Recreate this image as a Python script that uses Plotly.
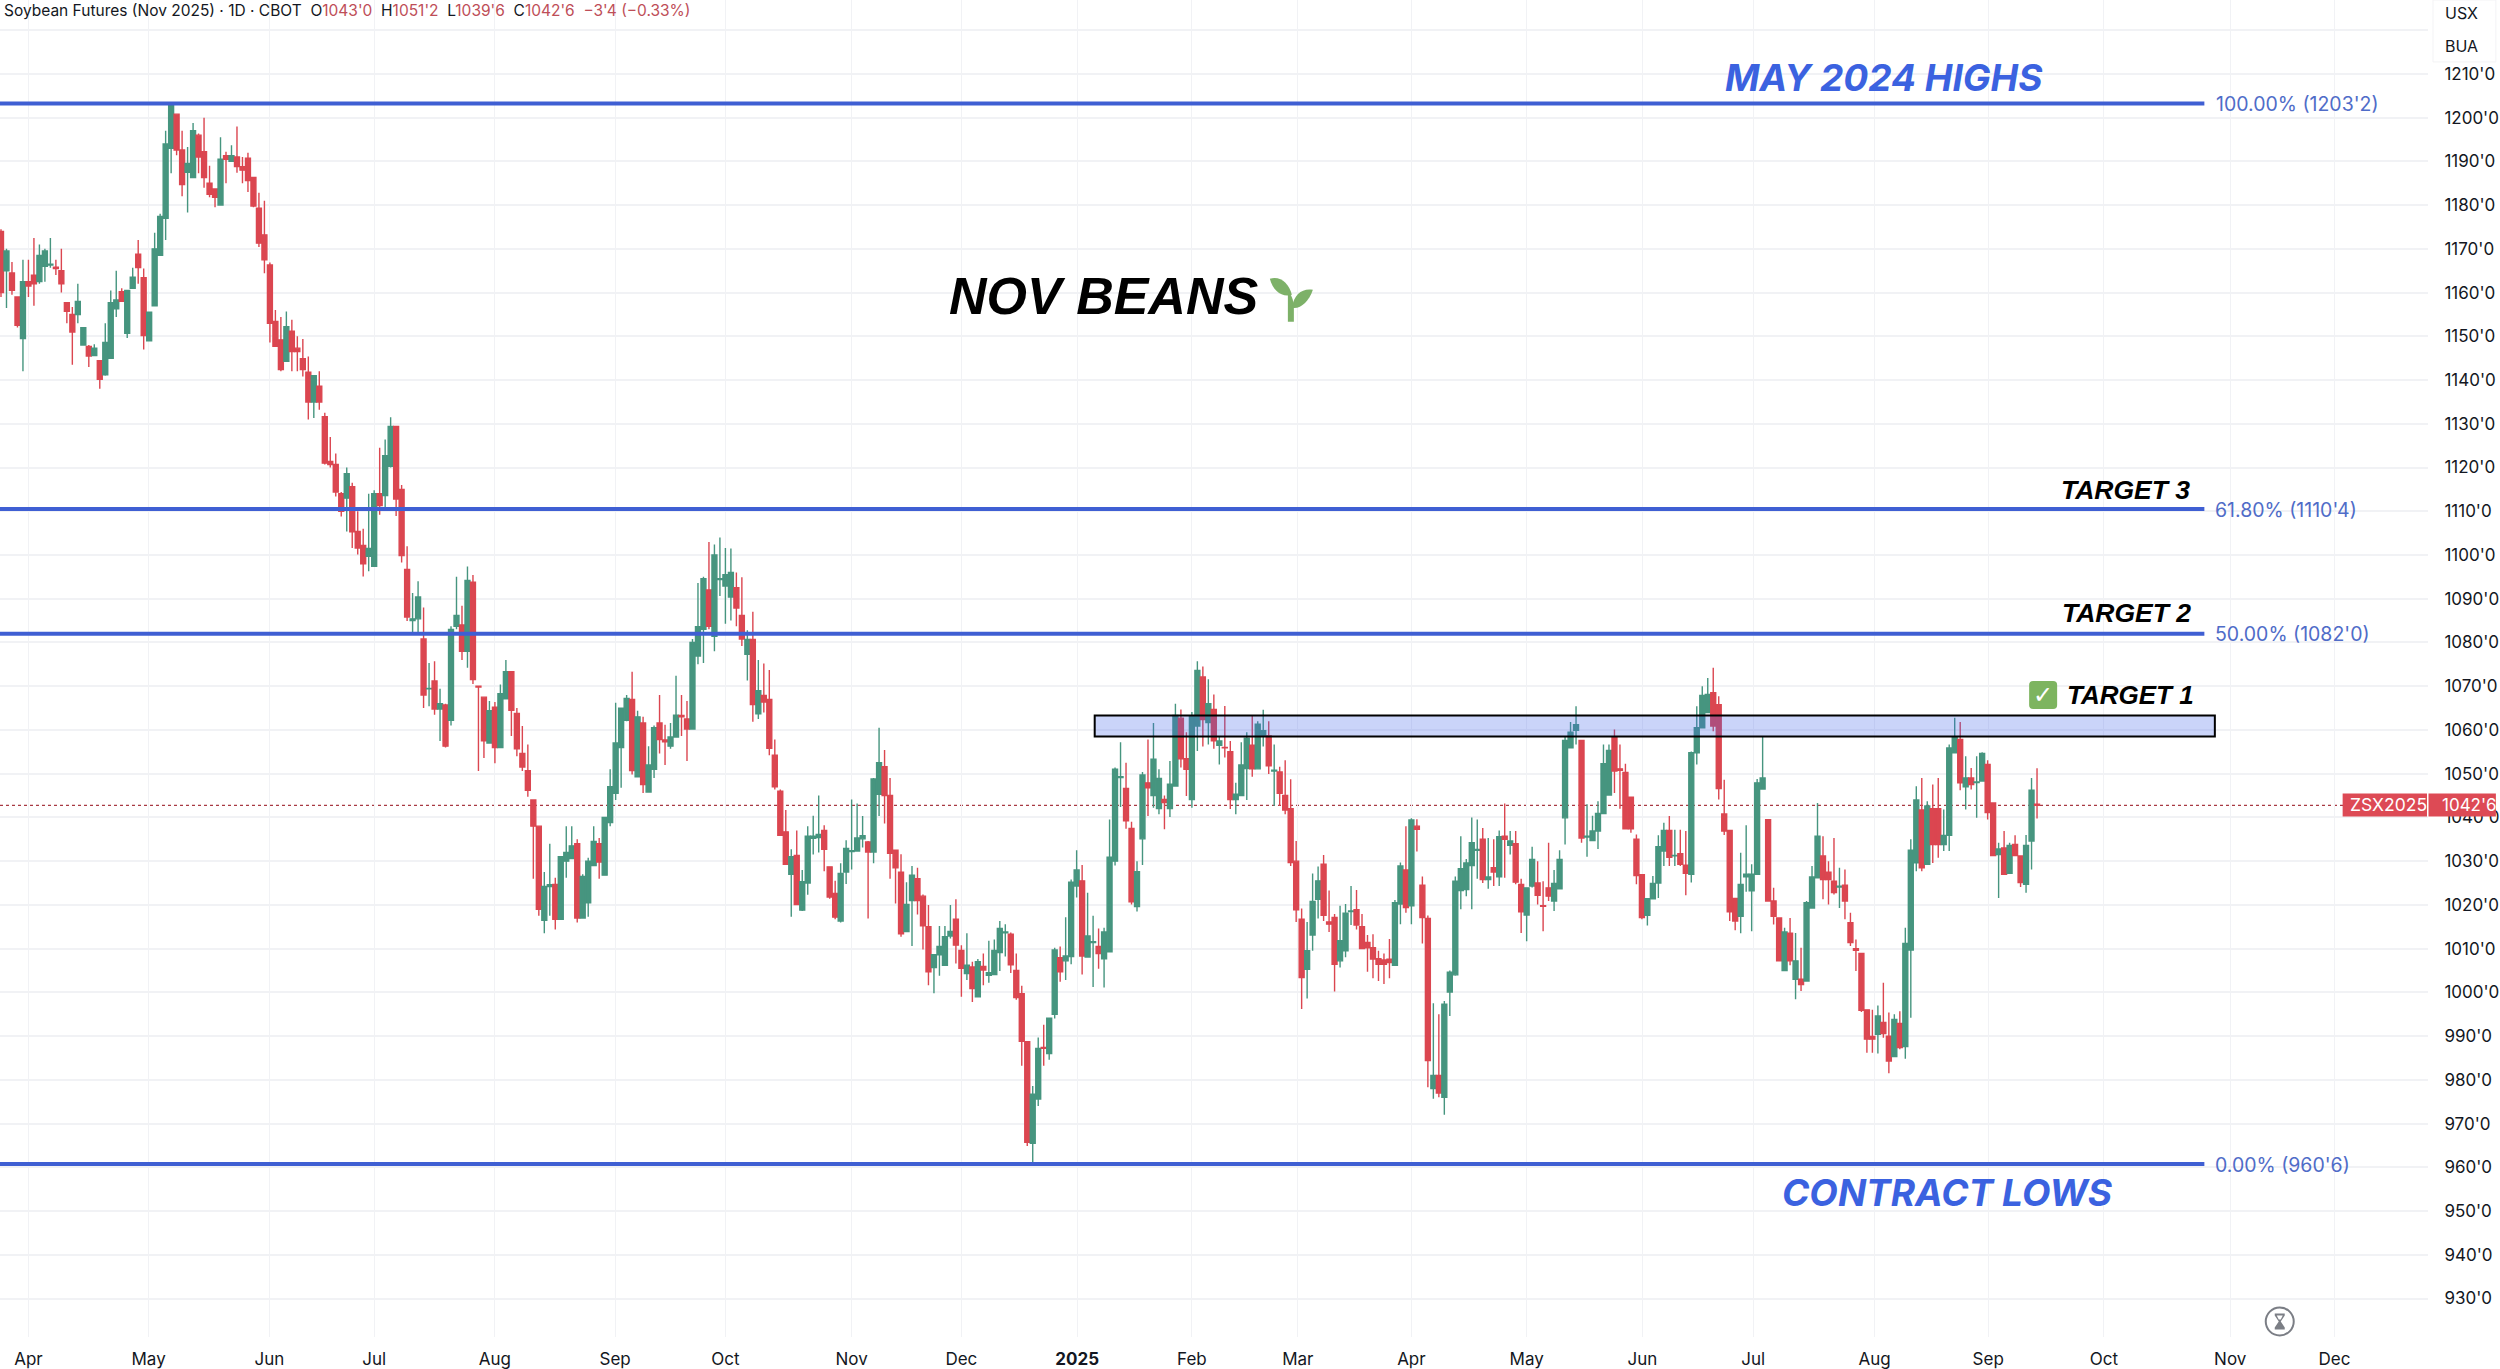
import plotly.graph_objects as go

opens = [
1174,1165,1164.5,1159,1149.5,1162.5,1164,1162.5,1166,1166.3,
1165.8,1165,1157.7,1155,1155,1148,1147.7,1145.6,1144.4,1141.2,
1145,1156.3,1160.2,1150.7,1161,1168.8,1163.4,1149,1157,1168.5,
1177,1193,1200.8,1192.6,1187.5,1186.3,1196,1192.2,1185,1183.7,
1180,1191.3,1190,1191,1188.8,1190.7,1186.3,1179.3,1173.2,1166.3,
1153.4,1149.2,1144.3,1151.2,1147.3,1144.9,1141.8,1135,1138.6,1131.6,
1121.4,1120.7,1114,1113,1115.6,1105.4,1102.2,1099.7,1097.4,1114,
1113.6,1120.3,1129.4,1115,1096.7,1085,1085.4,1080.8,1069.4,1071.2,
1064.8,1065.7,1062.2,1083.7,1084,1078,1093.8,1070,1067.5,1057,
1065.2,1056,1067.1,1073.3,1063.8,1054.6,1050.7,1044,1038,1016.5,
1024.2,1024.7,1016.7,1030,1030.6,1034,1017,1020.5,1029,1034,
1026.8,1038.8,1045.5,1056,1062.2,1067,1049.3,1061.6,1045.8,1051,
1061.6,1057.7,1056.3,1058.4,1063.3,1062.5,1060.2,1076.9,1083,1092,
1081.4,1094.4,1092.9,1090.4,1092.5,1086.2,1077.3,1080.7,1063.7,1067.9,
1067,1054.2,1046,1036.7,1027,1031.3,1018.8,1025,1035.2,1035.4,
1037,1028.7,1022.6,1016.3,1027.5,1032.2,1032.3,1035.1,1034.4,1032.1,
1045.3,1051.6,1045,1032.5,1027.5,1013.9,1021,1026,1022,1015,
1005.7,1008.6,1006.2,1012.9,1016.7,1009.6,1004.3,1005.8,999,1005.9,
1003.9,1004.1,1009.1,1013.6,1013.3,1005,999.7,988.7,965.5,975.6,
987.4,986,995,1007.9,1007.2,1008.2,1024.3,1025.5,1008.1,1011.4,
1010.5,1007.7,1009.3,1030,1049.1,1046.6,1037.5,1019.6,1035.1,1047.9,
1045,1042,1044.1,1042,1047.2,1062.7,1053.4,1044.1,1060.9,1072.1,
1061.7,1064.7,1056.5,1056,1055,1044.1,1045,1051.2,1056.5,1051.1,
1058.6,1058.6,1050.6,1050.4,1045,1042,1030,1016.7,1005.3,1013.1,
1021.3,1029.3,1016.1,1017.1,1007.2,1009.5,1018.5,1018.9,1015,1011.4,
1010.2,1007.7,1007.4,1007.6,1006.2,1020.2,1028,1019.8,1038,1024.5,
1016.9,978,981,976,1000.1,1004,1023.3,1023.5,1029,1032.5,
1035,1025.8,1028.5,1026.4,1035.7,1033.6,1034,1024.7,1017.7,1024.3,
1025,1019.8,1023.9,1020.9,1023.7,1039.9,1055.9,1059.9,1057.6,1035.5,
1034.7,1036.9,1040.9,1045.1,1058.4,1051.1,1050.3,1044.6,1035,1026.9,
1017.6,1021.4,1025,1032.3,1037,1031.2,1031.7,1029.1,1027,1054.8,
1060.5,1064,1068.5,1065.8,1040.8,1037,1021.5,1017.4,1026.4,1023.2,
1027,1046.5,1039.5,1020.9,1017,1005,1013.5,1003,1003,1002.6,
1019.3,1026.2,1031.2,1027.5,1025.4,1024.1,1024.5,1015.9,1010,1008.9,
996,989.9,990.4,993.1,990,985.3,992.9,987.6,1009.7,1029.6,
1041.7,1029.3,1042,1042,1033.8,1035.9,1054.8,1057.8,1047,1049,
1048,1048.3,1052.1,1043.3,1031.5,1033,1027.2,1033.8,1031.2,1024.7,1034.6,1043]

highs = [
1174.5,1170,1167,1159,1167.5,1167.5,1172.5,1171,1170,1172.5,
1167.5,1170,1157.7,1156.7,1162,1152,1148,1148.2,1144.4,1153,
1160.5,1165,1161,1160.5,1165.7,1172,1165.5,1155.5,1173.7,1178,
1197,1203.6,1200.8,1197,1193.3,1198.8,1196.4,1200,1189,1183.7,
1195.5,1192.2,1193.7,1198,1191,1192,1186.3,1182.8,1181,1166.9,
1156,1154.4,1155.7,1153.8,1150,1149.4,1145.4,1141,1142,1132.5,
1127,1123.2,1114.4,1120,1116.5,1110,1106,1114,1114.8,1124.5,
1126.4,1131.5,1129.4,1116,1102,1091.3,1094,1088,1075.3,1075.7,
1069.4,1066,1083.7,1095,1088.4,1097.4,1095.4,1070,1067.5,1066.6,
1066.4,1070.4,1076,1073.3,1065,1060.9,1056.7,1044,1038,1027.5,
1034,1026.2,1031,1038,1038,1035,1027,1030.8,1038,1035.3,
1040,1051,1066.2,1065,1068,1073.3,1064.4,1063,1056.3,1061,
1068,1061.2,1061.6,1072.4,1068,1066.6,1080.8,1093.6,1095,1103,
1102.4,1104,1101.6,1101.5,1096,1094.9,1082.8,1087,1076,1075.2,
1073.7,1057.8,1046.4,1041.7,1032.7,1037,1028,1038,1040.4,1045,
1038.2,1028.7,1025.5,1029.5,1034.8,1044.1,1043.2,1040.3,1034.6,1049,
1060.5,1055.4,1049,1032.5,1031.6,1025.2,1028.9,1028.5,1022.4,1020,
1008.6,1015.2,1015.2,1020,1021.3,1010.8,1013.5,1007,1007.6,1008.9,
1011.8,1012.1,1016.3,1015.6,1013.7,1008.9,1001.5,988.7,978.6,989.7,
992.6,994.1,1010.2,1010.5,1017.2,1025.8,1032.5,1029.1,1022.8,1017.5,
1014.6,1014.8,1039.5,1051.4,1057.2,1052.5,1039,1030,1050.4,1057.8,
1061.6,1051,1045,1052.9,1066,1064.7,1059.5,1064.1,1075.7,1074.5,
1071.6,1068.1,1058.6,1065.5,1057.5,1047.9,1057.2,1059.5,1063.3,1062,
1064.6,1062,1056.7,1051.6,1053.1,1048.7,1034.6,1019.2,1016.1,1027.2,
1028.8,1031.4,1023.3,1017.9,1019.8,1020.2,1024.3,1023.4,1017.9,1013.1,
1013.3,1009.5,1008.9,1012.2,1021.1,1029.7,1038,1039.8,1039.6,1026.5,
1017.6,997.5,995,998,1005,1026.5,1035.7,1030.5,1040,1039.5,
1037.6,1035.3,1035,1037,1043.2,1036.9,1036.9,1026,1024,1033.3,
1030,1025.4,1034.2,1028,1032.5,1058.6,1061.8,1065.4,1057.6,1043,
1040.4,1043.7,1056.7,1056.7,1060.1,1056.7,1052.3,1044.6,1036.1,1026.9,
1021.4,1026.6,1035.9,1038.8,1040.3,1037.2,1037.2,1036.9,1055.1,1065.4,
1070,1071.9,1074.2,1067.7,1048.6,1037,1021.5,1031.9,1038.2,1029.3,
1048.8,1058.6,1039.5,1023.9,1017,1014.8,1017,1013.6,1010.2,1020.9,
1028.9,1043.3,1035.7,1030,1035.3,1028.5,1028.1,1018.2,1012.1,1008.9,
996,996,997,1002.2,995.4,995,995.7,1014.8,1035,1047.1,
1049,1043.7,1047.5,1049,1041.8,1056.7,1062.8,1061.8,1054,1051.3,
1054,1054.9,1053.1,1043.3,1034.2,1036.9,1034.2,1035.9,1031.2,1036,1049,1051.25]

lows = [
1159,1156.5,1159.5,1152,1142,1159,1157,1162,1162.5,1165.7,
1164,1160,1153,1143.5,1153,1148,1143,1145.6,1138,1141,
1145,1154.4,1158,1149.6,1161,1162,1147,1149,1157,1168.5,
1172,1187.3,1191.4,1182,1178.3,1186.3,1187.3,1184,1181.8,1179.5,
1180,1185,1190,1187.4,1185,1183,1179.5,1170.4,1164.4,1148.6,
1147.7,1142,1144.3,1142,1142,1140.8,1131,1131.3,1133.2,1120.7,
1120,1113.4,1108.8,1105.4,1101.6,1100.1,1095.1,1096.3,1097.4,1109.2,
1111,1120,1108.9,1098.3,1084.9,1081.8,1081.8,1065,1065.4,1063.5,
1057.5,1056,1061,1083,1076,1074.2,1070.5,1050.6,1053.6,1057,
1052.4,1056,1067,1058.6,1054,1050.6,1044.7,1026,1017.5,1013.5,
1017.5,1014.4,1016.7,1026.2,1030.6,1016,1017,1017.3,1029,1026,
1026.8,1038,1044,1046.8,1062,1049.8,1049.3,1045.6,1045.8,1049,
1054.6,1052,1055.7,1058.4,1058.6,1052.9,1060.2,1075,1075.3,1083,
1078,1090.6,1084.3,1085,1083.7,1079.2,1071.3,1061.9,1062.5,1064,
1054.2,1046.4,1035.9,1029.3,1017.3,1020,1018.6,1022.3,1031.5,1032,
1027.7,1021.4,1016.7,1016,1024.8,1028.1,1032.3,1033.1,1016.9,1029.5,
1040.3,1038.6,1026,1020.3,1012.7,1013.9,1010.6,1017.8,1009.8,1001.6,
999.8,1003.8,1006.2,1012.3,1006.6,999,1002.8,997.8,999,1001.6,
1002.2,1004.1,1004.9,1008.2,1004.4,998.3,983.2,964.9,960.75,974,
983.2,984.6,994,1002.4,1002.8,1006.4,1021.7,1004.1,1008.1,1001.2,
1005.4,1001.1,1009.3,1029,1042.4,1037.4,1020.1,1018.5,1029.1,1040.3,
1042.2,1040.7,1037.3,1040.1,1047.2,1051.4,1044.9,1042.2,1055.2,1056.2,
1056.7,1055.7,1052.1,1053.7,1041.9,1040.7,1044.9,1044,1049.3,1051,
1056.2,1049.9,1042.6,1042.6,1040.7,1028.9,1016.1,996.2,998.6,1009.5,
1016.9,1016.3,1013.8,1000.2,1005.7,1008,1015.4,1014.4,1010,1004.7,
1003.2,1002.6,1001.9,1003.2,1006.2,1015.6,1018.2,1015.6,1032.2,1011.2,
978.3,975.7,976,972,994.6,1003.8,1019,1022,1019,1026,
1025,1023.7,1024.3,1024.3,1026.2,1031.5,1024.7,1013.6,1011.7,1024,
1020.1,1014,1020.9,1018.6,1023.7,1033.8,1055.9,1056.7,1034.2,1031,
1034.7,1032.8,1040.9,1045,1045.6,1042,1037.4,1036.5,1024.7,1016.7,
1015.3,1021.4,1021.6,1028.9,1028.9,1028.9,1028.9,1022.2,1025.1,1052.1,
1060.5,1063.9,1059.7,1044.1,1036,1016.3,1014.2,1013.5,1023,1014,
1027,1046.4,1020.9,1015.5,1007.2,1005,1006.2,998.4,1000.3,1002.6,
1019.3,1026.2,1021.3,1020.1,1022.4,1019.3,1016.7,1010.6,1004.9,995.5,
986.2,986.2,986,989.6,981.5,985.3,987,984.8,994.2,1027.7,
1027.7,1029.3,1029.6,1030.8,1032.3,1032.3,1054.8,1046.2,1041.8,1046.4,
1039.9,1048.3,1039.5,1031.2,1021.6,1027,1027.2,1031.2,1024.1,1022.8,1028.1,1039.75]

closes = [
1160,1169.5,1160.5,1152.5,1162.5,1161.5,1162,1168.5,1169.5,1166.5,
1165.5,1162,1155.7,1151,1158,1152,1145.5,1147.3,1140.2,1148.6,
1157.7,1158.3,1158,1160.5,1163.5,1165.7,1150.2,1155.5,1170,1177.4,
1194,1203.2,1192.6,1184.7,1189.5,1197,1191,1186.3,1182.5,1181.8,
1190.5,1190.5,1191.3,1188.8,1188,1185.6,1179.8,1171.3,1167.5,1153,
1147.7,1142.4,1152.2,1146.5,1146.5,1142.4,1135,1141,1135,1121,
1120.7,1114.4,1110,1118.6,1105.3,1101.6,1098,1101.5,1114,1111.3,
1122.7,1129.4,1112.8,1099.9,1085.8,1085.4,1090.4,1068,1069.5,1064.8,
1066,1056.3,1083,1086.2,1078,1094.2,1071.5,1069.8,1057.5,1064.4,
1056,1068.3,1073.3,1064.5,1055.7,1051.5,1046.2,1038,1019,1024.2,
1024.6,1016.7,1031,1032,1033.5,1017,1026.5,1030,1034.5,1029.8,
1040,1047,1057,1065,1067.2,1050.7,1063,1047.5,1052,1060.5,
1057.8,1057.3,1058.4,1063.4,1063,1060.2,1080,1083.6,1094.6,1083.7,
1100,1094.6,1095.5,1096,1087.9,1080.8,1080.7,1065.8,1069,1066.4,
1055.8,1047,1035.9,1029.3,1031,1020.1,1025.3,1035.7,1035.7,1036.1,
1032.7,1021.8,1017.2,1027.2,1032.9,1032.4,1035.3,1035.8,1032.1,1048.8,
1052.5,1045,1031.8,1028.5,1013.4,1020.1,1026.8,1021,1015.2,1004.7,
1008.6,1010.5,1012.7,1013.9,1010.8,1005.5,1006.2,1000.9,1007,1005.1,
1004.5,1009.6,1014.6,1013.8,1006.3,998.8,988.8,965.7,976.7,987.2,
987.2,994.1,1009.7,1004.7,1008.3,1025.2,1028,1008.3,1012.9,1011.6,
1008.9,1013.8,1030.9,1051,1049.3,1039.2,1020.7,1027.6,1049.7,1046.8,
1053.3,1048.9,1043.4,1047.6,1063.3,1053.4,1051,1063.2,1073.6,1062.4,
1066,1057.5,1057.5,1055.9,1044.1,1045.3,1052,1058.1,1051.1,1061.3,
1059.8,1051.8,1050.8,1045.5,1041.7,1029.7,1018.9,1003.4,1009.5,1020.8,
1025.5,1017.6,1015.6,1006.4,1011.8,1018.1,1018.6,1015.4,1010,1010.2,
1007.6,1006.4,1006.4,1006.8,1020.5,1028.9,1019.4,1039.4,1037.3,1017.1,
984.4,981,977,997.3,1004.6,1025.4,1028.3,1029.6,1034.2,1032.7,
1025.8,1026.4,1027.5,1035.6,1035,1034.6,1025.2,1018.4,1023.9,1030.4,
1022.2,1019.7,1022,1024.9,1030.4,1057.6,1059.5,1061.2,1035.3,1035.7,
1036.9,1040.9,1052.3,1055.3,1050.6,1050.8,1037.4,1037.4,1026.7,1017.1,
1021.4,1024.9,1033.3,1037,1030.9,1031.3,1029.3,1027.2,1054.8,1060.5,
1067.9,1068.1,1060.9,1046.6,1036.9,1018.4,1016.3,1024.7,1027,1027,
1047.9,1049,1020.9,1017.4,1007.2,1013.8,1007.2,1007.2,1001.8,1020.5,
1026.4,1035.7,1025.8,1025.8,1022.8,1024.3,1020.9,1011.4,1009.6,995.9,
989.3,989.3,994.6,990.6,984.3,993.8,987.4,1011.2,1032.5,1044,
1028.5,1042.6,1033.8,1033.8,1035.9,1055.9,1058.2,1047.9,1049,1047.5,
1048.1,1054.6,1041.1,1031.3,1032.8,1027,1033.6,1031.3,1025.1,1033.6,1046.2,1042.75]

assert len(opens) == len(highs) == len(lows) == len(closes) == 372, (len(opens), len(highs), len(lows), len(closes))

bar_index = list(range(len(closes)))

month_ticks = [5,26.9,48.9,68,90,111.9,132,155,175,196.1,217,236.3,257,278,299.1,319.3,341.4,362.1,383.2,406.2,425.2]
month_labels = ["Apr","May","Jun","Jul","Aug","Sep","Oct","Nov","Dec","<b>2025</b>","Feb","Mar","Apr","May","Jun","Jul","Aug","Sep","Oct","Nov","Dec"]

price_ticks = list(range(930, 1230, 10))
price_labels = [f"{p}'0" for p in price_ticks[:-1]] + [""]

fib_levels = [1203.25, 1110.5, 1082.0, 960.75]
fib_labels = ["100.00% (1203'2)", "61.80% (1110'4)", "50.00% (1082'0)", "0.00% (960'6)"]
zone_low, zone_high = 1058.5, 1063.3
last_close = 1042.75

W, H = 2500, 1369
PLOT_W, PLOT_H = 2432, 1338
STEP = 5.497
XMIN, XMAX = -1 / STEP, (PLOT_W - 1) / STEP
LEVEL_END = (2208 - 1) / STEP
ZONE_X0, ZONE_X1 = (1096.5 - 1) / STEP, (2218.5 - 1) / STEP
YMIN, YMAX = 921.2, 1226.9

GREEN = "#46957F"
RED = "#DB4650"
BLUE = "#3F5FD3"
LABEL_BLUE = "#4F6CC8"
TITLE_BLUE = "#3B62E0"
INK = "#131722"
HDR_RED = "#BE4E58"
GRID = "#F1F2F5"
LEAF = "#7DB168"

def X(px):
    return px / PLOT_W

def Y(py):
    return 1 - py / PLOT_H

fig = go.Figure()

fig.add_trace(go.Candlestick(
    x=bar_index, open=opens, high=highs, low=lows, close=closes,
    whiskerwidth=0,
    increasing=dict(line=dict(color=GREEN, width=1.4), fillcolor=GREEN),
    decreasing=dict(line=dict(color=RED, width=1.4), fillcolor=RED),
    showlegend=False, hoverinfo="skip",
))

for level in fib_levels:
    fig.add_trace(go.Scatter(
        x=[XMIN, LEVEL_END], y=[level, level], mode="lines",
        line=dict(color=BLUE, width=4), showlegend=False, hoverinfo="skip",
    ))

shapes = [
    dict(type="line", xref="x", yref="y", x0=XMIN, x1=XMAX, y0=last_close, y1=last_close,
         line=dict(color="#A83A43", width=1.4, dash="dot"), layer="below"),
    dict(type="rect", xref="x", yref="y", x0=ZONE_X0, x1=ZONE_X1, y0=zone_low, y1=zone_high,
         fillcolor="rgba(66,100,235,0.28)", line=dict(color="#000000", width=2), layer="above"),
    dict(type="rect", xref="paper", yref="paper", x0=X(2346.5), x1=X(2431), y0=Y(794), y1=Y(817),
         fillcolor="#DD4A55", line=dict(width=0), layer="above"),
    dict(type="rect", xref="paper", yref="paper", x0=X(2432.5), x1=X(2500), y0=Y(794), y1=Y(817),
         fillcolor="#DD4A55", line=dict(width=0), layer="above"),
    dict(type="rect", xref="paper", yref="paper", x0=X(2437), x1=X(2500), y0=Y(62), y1=Y(0),
         fillcolor="#FFFFFF", line=dict(color="#F3F3F5", width=1), layer="above"),
    dict(type="path", xref="paper", yref="paper", xsizemode="pixel", ysizemode="pixel",
         xanchor=X(1293), yanchor=Y(322),
         path="M -3,0 L 3,0 L 3,14 C 3,22 0,28 -3,30 C -3,20 -3,10 -3,0 Z",
         fillcolor=LEAF, line=dict(width=0), layer="above"),
    dict(type="path", xref="paper", yref="paper", xsizemode="pixel", ysizemode="pixel",
         xanchor=X(1293), yanchor=Y(322),
         path="M -21,43 C -10,46 -2,38 1,27 C -9,24 -18,31 -21,43 Z",
         fillcolor=LEAF, line=dict(width=0), layer="above"),
    dict(type="path", xref="paper", yref="paper", xsizemode="pixel", ysizemode="pixel",
         xanchor=X(1293), yanchor=Y(322),
         path="M 22,32 C 12,34 3,28 1,14 C 9,12 18,20 22,32 Z",
         fillcolor=LEAF, line=dict(width=0), layer="above"),
    dict(type="path", xref="paper", yref="paper", xsizemode="pixel", ysizemode="pixel",
         xanchor=X(2046.5), yanchor=Y(695.5),
         path="M -10,-14 L 10,-14 Q 14,-14 14,-10 L 14,10 Q 14,14 10,14 L -10,14 Q -14,14 -14,10 L -14,-10 Q -14,-14 -10,-14 Z",
         fillcolor="#7DB45F", line=dict(width=0), layer="above"),
    dict(type="circle", xref="paper", yref="paper", xsizemode="pixel", ysizemode="pixel",
         xanchor=X(2283.5), yanchor=Y(1322.5), x0=-14, x1=14, y0=-14, y1=14,
         fillcolor="rgba(0,0,0,0)", line=dict(color="#7B7E85", width=2), layer="above"),
    dict(type="path", xref="paper", yref="paper", xsizemode="pixel", ysizemode="pixel",
         xanchor=X(2283.5), yanchor=Y(1322.5),
         path="M -5,8 L 5,8 L 5,6 L 1,0 L 5,-6 L 5,-8 L -5,-8 L -5,-6 L -1,0 L -5,6 Z",
         fillcolor="#7B7E85", line=dict(width=0), layer="above"),
    dict(type="path", xref="paper", yref="paper", xsizemode="pixel", ysizemode="pixel",
         xanchor=X(2283.5), yanchor=Y(1322.5),
         path="M -3,6 L 3,6 L 1,2 L -1,2 Z",
         fillcolor="#FFFFFF", line=dict(width=0), layer="above"),
]

def note(px, py, text, size, color, xanchor="left", family="Inter"):
    return dict(xref="paper", yref="paper", x=X(px), y=Y(py), text=text, showarrow=False,
                xanchor=xanchor, yanchor="middle", align="left",
                font=dict(family=family, size=size, color=color), borderpad=0, borderwidth=0)

def red(t):
    return f'<span style="color:{HDR_RED}">{t}</span>'

header = ("Soybean Futures (Nov 2025) · 1D · CBOT\u00a0\u00a0"
          + "O" + red("1043'0") + "\u00a0\u00a0H" + red("1051'2") + "\u00a0\u00a0L" + red("1039'6")
          + "\u00a0\u00a0C" + red("1042'6") + "\u00a0\u00a0" + red("\u22123'4 (\u22120.33%)"))

BI = "Liberation Sans"
def headline(px, py, text, size, color, family=BI):
    return note(px, py, f"<b><i>{text}</i></b>", size, color, family=family)

annotations = [
    note(4, 11, header, 15.5, INK),
    note(2449, 13, "USX", 16, INK),
    note(2449, 46.5, "BUA", 16, INK),
    note(2354, 805.5, "ZSX2025", 17.5, "#FFFFFF"),
    note(2446, 805.5, "1042'6", 17, "#FFFFFF"),
    headline(1728, 78, "MAY 2024 HIGHS", 37, TITLE_BLUE, family="Inter"),
    headline(1785, 1193, "CONTRACT LOWS", 37, TITLE_BLUE, family="Inter"),
    headline(951, 296, "NOV BEANS", 52, "#000000"),
    headline(2064, 490, "TARGET 3", 26.5, "#000000"),
    headline(2065, 613, "TARGET 2", 26.5, "#000000"),
    headline(2070, 696, "TARGET 1", 26, "#000000"),
    note(2046.5, 696, "✓", 24, "#FFFFFF", xanchor="center", family="DejaVu Sans"),
]
for px, py, text in zip([2220, 2219, 2219, 2219], [104, 510, 634, 1166], fib_labels):
    annotations.append(note(px, py, text, 19.5, LABEL_BLUE))

fig.update_layout(
    width=W, height=H,
    margin=dict(l=0, r=W - PLOT_W, t=0, b=H - PLOT_H, pad=0),
    paper_bgcolor="#FFFFFF", plot_bgcolor="#FFFFFF",
    font=dict(family="Inter", size=17, color=INK),
    boxgap=0.1, boxgroupgap=0,
    showlegend=False, hovermode=False, dragmode=False,
    shapes=shapes, annotations=annotations,
    xaxis=dict(range=[XMIN, XMAX], tickmode="array", tickvals=month_ticks, ticktext=month_labels,
               showgrid=True, gridcolor=GRID, gridwidth=1, zeroline=False, showline=False,
               ticks="outside", ticklen=7, tickcolor="rgba(0,0,0,0)",
               tickfont=dict(family="Inter", size=17, color=INK),
               rangeslider=dict(visible=False), fixedrange=True),
    yaxis=dict(range=[YMIN, YMAX], side="right", tickmode="array", tickvals=price_ticks, ticktext=price_labels,
               showgrid=True, gridcolor=GRID, gridwidth=1.5, zeroline=False, showline=False,
               ticks="outside", ticklen=12, tickcolor="rgba(0,0,0,0)",
               tickfont=dict(family="Inter", size=17, color=INK), fixedrange=True),
)

fig.write_html("out.html", config=dict(displayModeBar=False),
               post_script="document.body.style.margin='0';document.documentElement.style.overflow='hidden';")
